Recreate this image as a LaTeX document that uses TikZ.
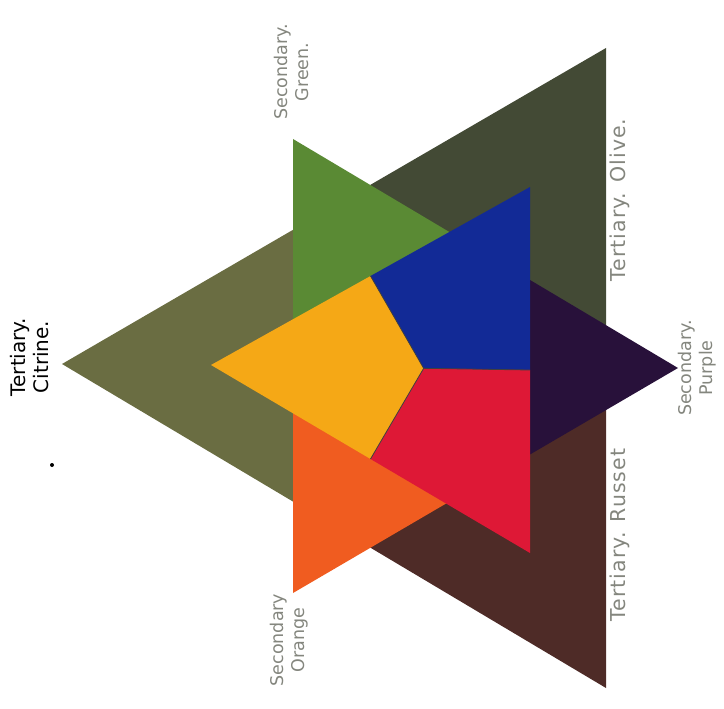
\documentclass[tikz,border=0pt]{standalone}
\usepackage{fontspec}
\usetikzlibrary{calc}
\newfontfamily\lblfont{DejaVu Sans}
\newfontfamily\widefont[LetterSpace=5]{DejaVu Sans}
\definecolor{ccitrine}{RGB}{106,109,66}
\definecolor{colive}{RGB}{67,74,53}
\definecolor{crusset}{RGB}{78,43,39}
\definecolor{cgreen}{RGB}{90,138,52}
\definecolor{corange}{RGB}{240,92,32}
\definecolor{cpurple}{RGB}{40,17,58}
\definecolor{cyellow}{RGB}{245,168,22}
\definecolor{cblue}{RGB}{18,42,150}
\definecolor{cred}{RGB}{222,24,54}
\definecolor{lgray}{RGB}{132,134,126}

\begin{document}
\begin{tikzpicture}[x=1pt,y=-1pt,
  tert/.style={rotate=90,font=\widefont\fontsize{20.5}{23}\selectfont,text=lgray,align=center,inner sep=0pt},
  secd/.style={rotate=90,font=\lblfont\fontsize{17.5}{21}\selectfont,text=lgray,align=center,inner sep=0pt},
  seam/.style={draw=black!75,line width=0.8pt}]

\useasboundingbox (0,0) rectangle (724,709);

% tertiary triangle
\coordinate (tA) at (62,364);
\coordinate (tB) at (606,48);
\coordinate (tC) at (606,688);
\coordinate (tG) at (barycentric cs:tA=1,tB=1,tC=1);
\fill[ccitrine] (tA) -- ($(tA)!.5!(tB)$) -- (tG) -- ($(tA)!.5!(tC)$) -- cycle;
\fill[colive] ($(tA)!.5!(tB)$) -- (tB) -- ($(tB)!.5!(tC)$) -- (tG) -- cycle;
\fill[crusset] (tG) -- ($(tB)!.5!(tC)$) -- (tC) -- ($(tA)!.5!(tC)$) -- cycle;

% secondary triangle
\coordinate (sP) at (293,139);
\coordinate (sQ) at (293,593);
\coordinate (sR) at (678,368);
\coordinate (sG) at (barycentric cs:sP=1,sQ=1,sR=1);
\fill[cgreen] (sP) -- ($(sP)!.5!(sR)$) -- (sG) -- ($(sP)!.5!(sQ)$) -- cycle;
\fill[corange] (sQ) -- ($(sP)!.5!(sQ)$) -- (sG) -- ($(sQ)!.5!(sR)$) -- cycle;
\fill[cpurple] (sR) -- ($(sQ)!.5!(sR)$) -- (sG) -- ($(sP)!.5!(sR)$) -- cycle;

% primary triangle
\coordinate (pU) at (211,365);
\coordinate (pV) at (530,187);
\coordinate (pW) at (530,553);
\coordinate (pG) at (barycentric cs:pU=1,pV=1,pW=1);
\fill[cyellow] (pU) -- ($(pU)!.5!(pV)$) -- (pG) -- ($(pU)!.5!(pW)$) -- cycle;
\fill[cblue] ($(pU)!.5!(pV)$) -- (pV) -- ($(pV)!.5!(pW)$) -- (pG) -- cycle;
\fill[cred] (pG) -- ($(pV)!.5!(pW)$) -- (pW) -- ($(pU)!.5!(pW)$) -- cycle;
\draw[seam] ($(pU)!.5!(pV)$) -- (pG) -- ($(pV)!.5!(pW)$);
\draw[seam] (pG) -- ($(pU)!.5!(pW)$);

% labels
\node[tert,font=\lblfont\fontsize{20}{23}\selectfont,text=black] (citrine) at (30,357) {Tertiary.\\Citrine.};
\node[tert] (olive) at (620,200) {Tertiary.\hspace{0.5em}Olive.};
\node[tert] (russet) at (620,535) {Tertiary.\hspace{0.5em}Russet};
\node[secd] (green) at (291,72) {Secondary.\\Green.};
\node[secd] (orange) at (289,640) {Secondary\\Orange};
\node[secd] (purple) at (697,368) {Secondary.\\Purple};

\fill (52,465) circle (2pt);
\end{tikzpicture}
\end{document}
